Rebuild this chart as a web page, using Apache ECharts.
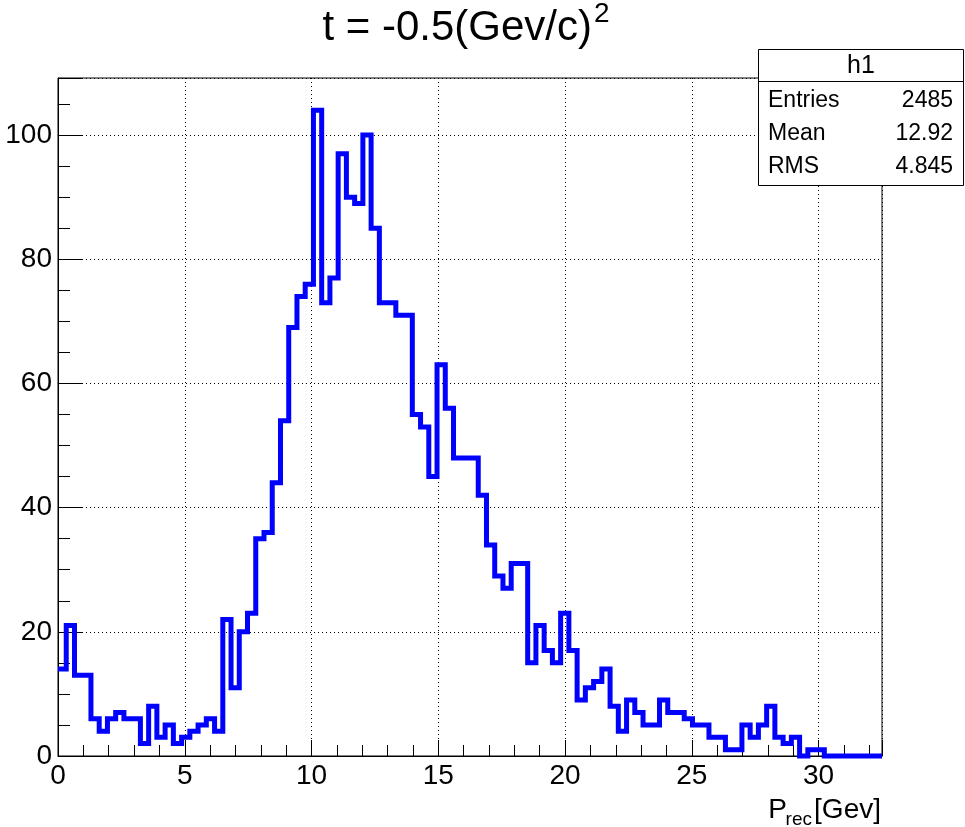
<!DOCTYPE html>
<html>
<head>
<meta charset="utf-8">
<script src="https://cdn.jsdelivr.net/npm/echarts@6/dist/echarts.min.js"></script>
<style>
  html, body { margin: 0; padding: 0; background: #fff; }
  #chart { width: 965px; height: 827px; }
</style>
</head>
<body>
<div id="chart"></div>
<script>
// Histogram binning
const xMin = 0;
const xMax = 32.5;
const nBins = 100;

// Bin contents, bin 1 .. bin 100
const counts = [
  14, 21, 13, 13, 6, 4, 6, 7, 6, 6,
  2, 8, 3, 5, 2, 3, 4, 5, 6, 4,
  22, 11, 20, 23, 35, 36, 44, 54, 69, 74,
  76, 104, 73, 77, 97, 90, 89, 100, 85, 73,
  73, 71, 71, 55, 53, 45, 63, 56, 48, 48,
  48, 42, 34, 29, 27, 31, 31, 15, 21, 17,
  15, 23, 17, 9, 11, 12, 14, 8, 4, 9,
  7, 5, 5, 9, 7, 7, 6, 5, 5, 3,
  3, 1, 1, 5, 3, 5, 8, 3, 2, 3,
  0, 1, 1, 0, 0, 0, 0, 0, 0, 0
];

// Axis tick labels
const xTickLabels = [0, 5, 10, 15, 20, 25, 30];
const yTickLabels = [0, 20, 40, 60, 80, 100];

// Statistics box
const histName = 'h1';
const statNames = ['Entries', 'Mean', 'RMS'];
const statValues = ['2485', '12.92', '4.845'];

// Texts
const titleMain = 't = -0.5(Gev/c)';
const titleSup = '2';
const xTitleMain = 'P';
const xTitleSub = 'rec';
const xTitleUnit = '[Gev]';

const FONT = "'Liberation Sans', Arial, Helvetica, sans-serif";

// Step outline: left edge of every bin, closed at the upper edge of the range
const binWidth = (xMax - xMin) / nBins;
const outline = counts.map((c, i) => [xMin + i * binWidth, c]);
outline.push([xMax, counts[counts.length - 1]]);
const yMax = Math.max(...counts) * 1.05;

const black = '#000';
const chart = echarts.init(document.getElementById('chart'), null, { renderer: 'canvas' });

const minorAxis = (extra) => Object.assign({
  type: 'value',
  axisLine: { show: false },
  axisLabel: { show: false },
  splitLine: { show: false },
  axisTick: { show: true, inside: true, lineStyle: { color: black, width: 1 } }
}, extra);

const statTexts = [];
statNames.forEach((name, i) => {
  const y = 101 + i * 33;
  statTexts.push({
    type: 'text', z: 101,
    style: { text: name, x: 768, y: y, font: '23px ' + FONT, fill: black, align: 'left', verticalAlign: 'middle' }
  });
  statTexts.push({
    type: 'text', z: 101,
    style: { text: statValues[i], x: 953, y: y, font: '23px ' + FONT, fill: black, align: 'right', verticalAlign: 'middle' }
  });
});

chart.setOption({
  animation: false,
  backgroundColor: '#fff',
  grid: {
    left: 58, top: 78, width: 824, height: 678,
    show: true, borderColor: black, borderWidth: 1, backgroundColor: '#fff',
    containLabel: false, outerBoundsMode: 'none'
  },
  xAxis: [
    minorAxis({ min: xMin, max: xMax, interval: 1, position: 'bottom',
      axisTick: { show: true, inside: true, length: 11, lineStyle: { color: black, width: 1 } } }),
    {
      type: 'value', min: xMin, max: xMax, interval: 5, position: 'bottom',
      axisLine: { show: true, lineStyle: { color: black, width: 1 } },
      axisTick: { show: true, inside: true, length: 16, lineStyle: { color: black, width: 1 } },
      axisLabel: {
        show: true, margin: 6, color: black, fontSize: 28, fontFamily: FONT,
        formatter: v => (xTickLabels.indexOf(v) >= 0 ? String(v) : '')
      },
      splitLine: { show: true, lineStyle: { color: black, width: 1, type: [1, 3] } }
    }
  ],
  yAxis: [
    minorAxis({ min: 0, max: yMax, interval: 5, position: 'left',
      axisTick: { show: true, inside: true, length: 12, lineStyle: { color: black, width: 1 } } }),
    {
      type: 'value', min: 0, max: yMax, interval: 20, position: 'left',
      axisLine: { show: true, lineStyle: { color: black, width: 1 } },
      axisTick: { show: true, inside: true, length: 24, lineStyle: { color: black, width: 1 } },
      axisLabel: {
        show: true, margin: 6, color: black, fontSize: 28, fontFamily: FONT,
        formatter: v => (yTickLabels.indexOf(v) >= 0 ? String(v) : '')
      },
      splitLine: { show: true, lineStyle: { color: black, width: 1, type: [1, 3] } }
    }
  ],
  series: [{
    name: histName,
    type: 'line',
    xAxisIndex: 1, yAxisIndex: 1,
    data: outline,
    step: 'end',
    symbol: 'none',
    clip: false,
    lineStyle: { color: '#0000ff', width: 5, join: 'miter' },
    z: 3
  }],
  graphic: [
    // title with superscript
    { type: 'text', z: 101,
      style: { text: titleMain, x: 592, y: 28, font: '42px ' + FONT, fill: black, align: 'right', verticalAlign: 'middle' } },
    { type: 'text', z: 101,
      style: { text: titleSup, x: 594, y: 14, font: '28px ' + FONT, fill: black, align: 'left', verticalAlign: 'middle' } },
    // x axis title with subscript
    { type: 'text', z: 101,
      style: { text: xTitleUnit, x: 881, y: 810, font: '28px ' + FONT, fill: black, align: 'right', verticalAlign: 'middle' } },
    { type: 'text', z: 101,
      style: { text: xTitleSub, x: 812, y: 820, font: '19px ' + FONT, fill: black, align: 'right', verticalAlign: 'middle' } },
    { type: 'text', z: 101,
      style: { text: xTitleMain, x: 787, y: 810, font: '28px ' + FONT, fill: black, align: 'right', verticalAlign: 'middle' } },
    // statistics box
    { type: 'rect', z: 100,
      shape: { x: 758.5, y: 49.5, width: 205, height: 136 },
      style: { fill: '#fff', stroke: black, lineWidth: 1 } },
    { type: 'line', z: 101,
      shape: { x1: 758.5, y1: 81.5, x2: 963.5, y2: 81.5 },
      style: { stroke: black, lineWidth: 1 } },
    { type: 'text', z: 101,
      style: { text: histName, x: 861, y: 66, font: '25px ' + FONT, fill: black, align: 'center', verticalAlign: 'middle' } }
  ].concat(statTexts)
});
</script>
</body>
</html>
